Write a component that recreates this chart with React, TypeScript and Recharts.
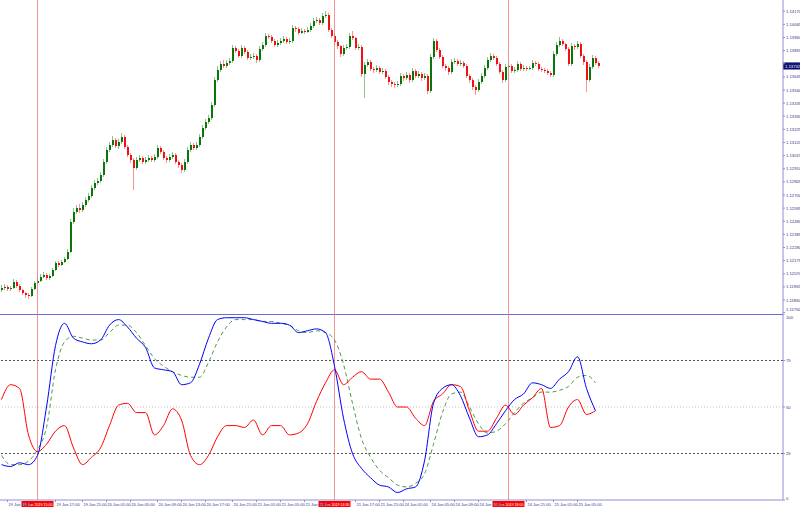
import React from "react";
import { ComposedChart, Bar, XAxis, YAxis, ReferenceLine, LineChart, Line } from "recharts";

// EURUSD-style candles, open = previous close
const FIRST_OPEN = 1.1194;
const CLOSE = [
  1.11956, 1.11964, 1.11948, 1.11956, 1.12004, 1.11972, 1.1194, 1.11916, 1.119, 1.11892,
  1.11948, 1.11996, 1.12012, 1.12044, 1.1206, 1.12036, 1.12052, 1.121, 1.12156, 1.1214,
  1.12164, 1.12188, 1.12244, 1.12484, 1.12564, 1.12596, 1.1258, 1.1262, 1.1266, 1.12692,
  1.12756, 1.12796, 1.12812, 1.1286, 1.12964, 1.1306, 1.131, 1.1314, 1.13092, 1.13124,
  1.13164, 1.13084, 1.1302, 1.1298, 1.12916, 1.1298, 1.12996, 1.12964, 1.1298, 1.12996,
  1.1298, 1.13004, 1.13076, 1.13044, 1.12996, 1.1298, 1.13004, 1.1302, 1.12964, 1.1294,
  1.129, 1.12964, 1.1306, 1.131, 1.13076, 1.131, 1.13164, 1.13236, 1.13284, 1.13316,
  1.1342, 1.1362, 1.137, 1.13748, 1.13732, 1.13756, 1.13772, 1.13876, 1.13852, 1.13812,
  1.13876, 1.13844, 1.13796, 1.13804, 1.13812, 1.1378, 1.13868, 1.139, 1.13972, 1.13964,
  1.13932, 1.139, 1.13916, 1.13932, 1.13948, 1.13924, 1.13932, 1.14036, 1.14028, 1.13996,
  1.14012, 1.14004, 1.1402, 1.14052, 1.14092, 1.141, 1.14076, 1.14132, 1.1414, 1.1402,
  1.13972, 1.13924, 1.13892, 1.13828, 1.13876, 1.13884, 1.13972, 1.13956, 1.13876, 1.13884,
  1.13668, 1.1374, 1.13764, 1.13708, 1.137, 1.13716, 1.13684, 1.13692, 1.13644, 1.13604,
  1.13588, 1.1358, 1.13588, 1.13652, 1.13636, 1.1366, 1.1362, 1.13692, 1.13652, 1.13668,
  1.13636, 1.13652, 1.13532, 1.13804, 1.13932, 1.1386, 1.13804, 1.13732, 1.13716, 1.13684,
  1.13764, 1.13772, 1.13748, 1.13756, 1.13732, 1.13652, 1.1362, 1.13564, 1.1354, 1.13604,
  1.13652, 1.13716, 1.1378, 1.13812, 1.13796, 1.13748, 1.13684, 1.1362, 1.13724, 1.13732,
  1.13692, 1.137, 1.13748, 1.13708, 1.13716, 1.13708, 1.13716, 1.13756, 1.13748, 1.13708,
  1.137, 1.13692, 1.13676, 1.1366, 1.13828, 1.139, 1.13932, 1.13908, 1.13868, 1.13748,
  1.13892, 1.13884, 1.13908, 1.13812, 1.13764, 1.1362, 1.13724, 1.13796, 1.13756, 1.13732,
];
const HIGH = [
  1.1198, 1.11988, 1.1198, 1.11972, 1.12028, 1.1202, 1.11988, 1.11948, 1.11924, 1.11916,
  1.11964, 1.12012, 1.12036, 1.12068, 1.12084, 1.12076, 1.12068, 1.12116, 1.12172, 1.12172,
  1.1218, 1.12204, 1.12268, 1.12508, 1.12596, 1.1262, 1.12628, 1.12644, 1.12684, 1.12716,
  1.1278, 1.1282, 1.12836, 1.12884, 1.12988, 1.13084, 1.13124, 1.13172, 1.13156, 1.13148,
  1.13196, 1.1318, 1.131, 1.13036, 1.12996, 1.13004, 1.1302, 1.13012, 1.13004, 1.1302,
  1.13012, 1.13028, 1.131, 1.13092, 1.1306, 1.13012, 1.13028, 1.13044, 1.13036, 1.1298,
  1.12956, 1.12988, 1.13084, 1.13124, 1.13116, 1.13124, 1.13188, 1.1326, 1.13308, 1.1334,
  1.13444, 1.13644, 1.13732, 1.13772, 1.1378, 1.1378, 1.13796, 1.139, 1.13892, 1.13868,
  1.139, 1.13892, 1.1386, 1.13828, 1.13836, 1.13828, 1.13892, 1.13924, 1.13996, 1.13988,
  1.1398, 1.13948, 1.1394, 1.13956, 1.13972, 1.13964, 1.13956, 1.1406, 1.14052, 1.14044,
  1.14036, 1.14028, 1.14044, 1.14076, 1.14116, 1.14124, 1.14116, 1.14156, 1.14172, 1.14156,
  1.14036, 1.13988, 1.1394, 1.139, 1.139, 1.13908, 1.13996, 1.14012, 1.13964, 1.13908,
  1.139, 1.13764, 1.13788, 1.1378, 1.13724, 1.1374, 1.13732, 1.13716, 1.13708, 1.1366,
  1.1362, 1.13604, 1.13612, 1.13676, 1.13668, 1.13684, 1.13676, 1.13716, 1.13708, 1.13692,
  1.13684, 1.13676, 1.13668, 1.13828, 1.13956, 1.13948, 1.13876, 1.1382, 1.13748, 1.13732,
  1.13788, 1.13796, 1.13788, 1.1378, 1.13772, 1.13748, 1.13668, 1.13636, 1.1358, 1.13628,
  1.13676, 1.1374, 1.13804, 1.13836, 1.13828, 1.13812, 1.13764, 1.137, 1.13748, 1.13756,
  1.13748, 1.13724, 1.13772, 1.13764, 1.1374, 1.13732, 1.13732, 1.1378, 1.13772, 1.13764,
  1.13724, 1.13716, 1.13708, 1.13692, 1.13852, 1.13924, 1.13964, 1.13948, 1.13916, 1.13884,
  1.13916, 1.13908, 1.13932, 1.13924, 1.13828, 1.1378, 1.13748, 1.1382, 1.13812, 1.13772,
];
const LOW = [
  1.11924, 1.1194, 1.11932, 1.11932, 1.11948, 1.11956, 1.11924, 1.119, 1.11876, 1.11868,
  1.11884, 1.1194, 1.11988, 1.12004, 1.12036, 1.1202, 1.1202, 1.12044, 1.12092, 1.12124,
  1.12132, 1.12156, 1.1218, 1.12236, 1.12468, 1.12548, 1.12556, 1.12564, 1.12604, 1.12644,
  1.12676, 1.1274, 1.1278, 1.12796, 1.12844, 1.12948, 1.13044, 1.13084, 1.13076, 1.13068,
  1.13108, 1.13068, 1.13004, 1.12956, 1.1274, 1.129, 1.12964, 1.12948, 1.12948, 1.12964,
  1.12964, 1.12964, 1.12988, 1.13028, 1.1298, 1.12956, 1.12964, 1.12988, 1.12948, 1.12916,
  1.12876, 1.12884, 1.12948, 1.13044, 1.1306, 1.1306, 1.13084, 1.13148, 1.1322, 1.13268,
  1.133, 1.13404, 1.13604, 1.13684, 1.13716, 1.13716, 1.1374, 1.13756, 1.13836, 1.13796,
  1.13796, 1.13828, 1.1378, 1.1378, 1.13788, 1.13756, 1.13764, 1.13852, 1.13884, 1.13948,
  1.13916, 1.13884, 1.13884, 1.139, 1.13916, 1.13908, 1.13908, 1.13916, 1.14004, 1.1398,
  1.13988, 1.13988, 1.13996, 1.14004, 1.14036, 1.14076, 1.1406, 1.1406, 1.14116, 1.14004,
  1.13956, 1.139, 1.13868, 1.13804, 1.13812, 1.1386, 1.13868, 1.1394, 1.1386, 1.1386,
  1.13644, 1.13476, 1.13724, 1.13692, 1.13676, 1.13684, 1.13668, 1.13668, 1.13628, 1.1358,
  1.13564, 1.13556, 1.13564, 1.13572, 1.13612, 1.1362, 1.13596, 1.13604, 1.13636, 1.13636,
  1.13612, 1.1362, 1.13508, 1.13516, 1.13788, 1.13844, 1.13788, 1.13716, 1.13692, 1.1366,
  1.13668, 1.13748, 1.13732, 1.13732, 1.13716, 1.13636, 1.13596, 1.1354, 1.135, 1.13524,
  1.13588, 1.13636, 1.137, 1.13764, 1.1378, 1.13732, 1.13668, 1.13596, 1.13604, 1.13708,
  1.13676, 1.13676, 1.13684, 1.13692, 1.13692, 1.13692, 1.137, 1.137, 1.13732, 1.13692,
  1.13684, 1.13676, 1.1366, 1.13644, 1.13644, 1.13812, 1.13884, 1.13892, 1.13852, 1.13732,
  1.13732, 1.1386, 1.13868, 1.13796, 1.1374, 1.13524, 1.13604, 1.13708, 1.1374, 1.13716,
];

const PRICE_TICKS = [
  1.1176, 1.1186, 1.11965, 1.1207, 1.12175, 1.1228, 1.12385, 1.1249, 1.12595, 1.127, 1.12805, 1.1291,
  1.13015, 1.1312, 1.13225, 1.1333, 1.13435, 1.1354, 1.13645, 1.1375, 1.13855, 1.1396, 1.14065, 1.1417,
];
const OSC_TICKS = [0, 25, 50, 75, 100];

// oscillators, read every 3rd bar
const STOCH_MAIN = [
  19, 18, 20, 19, 24, 50, 83, 95, 87, 85, 84, 86, 94, 97, 93, 87, 82, 71, 70, 69, 62, 63, 73, 87, 97, 98, 98, 98,
  97, 96, 95, 95, 94, 90, 91, 92, 90, 72, 44, 25, 17, 12, 8, 7, 4, 6, 7, 21, 52, 60, 62, 56, 44, 34, 35, 41, 48,
  54, 57, 63, 62, 60, 65, 69, 77, 60, 48,
];
const STOCH_SIGNAL = [
  24, 19, 19, 21, 27, 39, 70, 85, 88, 87, 86, 86, 90, 94, 94, 90, 83, 76, 72, 69, 67, 66, 66, 74, 85, 93, 97, 97,
  97, 96, 96, 95, 94, 91, 90, 91, 90, 86, 73, 52, 33, 23, 16, 12, 8, 7, 9, 14, 30, 47, 57, 58, 50, 41, 36, 37, 41,
  47, 52, 55, 58, 58, 59, 61, 66, 67, 63,
];
const RSI = [
  54, 62, 60, 35, 26, 30, 37, 40, 28, 19, 23, 28, 40, 51, 52, 47, 47, 35, 40, 49, 43, 24, 19, 24, 34, 40, 40, 39,
  43, 35, 40, 40, 35, 36, 41, 53, 63, 70, 62, 66, 69, 65, 65, 58, 50, 50, 44, 40, 53, 57, 62, 61, 48, 37, 37, 44,
  51, 46, 51, 55, 60, 39, 40, 50, 54, 46, 48,
];

const TIME_BARS = [2, 18, 27, 35, 43, 52, 60, 68, 77, 85, 93, 101, 118, 126, 134, 143, 151, 159, 175, 184, 192];
const TIME_LABELS = [
  "19 Jun 2019", "19 Jun 17:00", "19 Jun 21:00", "20 Jun 01:00", "20 Jun 05:00",
  "20 Jun 09:00", "20 Jun 13:00", "20 Jun 17:00", "20 Jun 21:00", "21 Jun 01:00", "21 Jun 05:00",
  "21 Jun 09:00", "21 Jun 17:00", "21 Jun 21:00", "24 Jun 01:00", "24 Jun 05:00", "24 Jun 09:00",
  "24 Jun 13:00", "24 Jun 21:00", "25 Jun 01:00", "25 Jun 05:00",
];
const VLINE_BARS = [12, 111, 169];
const VLINE_LABELS = ["19 Jun 2019 15:00", "21 Jun 2019 14:30", "24 Jun 2019 18:00"];

const SLOTS = 261; // bars + empty shift on the right
const GREEN = "#0a760a";
const RED = "#f21010";
const AXIS = "#8e8ed6";
const AXIS_TEXT = "#34348a";
const FONT = "'Liberation Sans', Arial, sans-serif";

const candles = Array.from({ length: SLOTS }, (_, i) => {
  if (i >= CLOSE.length) return { bar: i };
  const open = i === 0 ? FIRST_OPEN : CLOSE[i - 1];
  return { bar: i, open, close: CLOSE[i], high: HIGH[i], low: LOW[i], range: [LOW[i], HIGH[i]] };
});

const osc = STOCH_MAIN.map((v, k) => ({ bar: k * 3, main: v, signal: STOCH_SIGNAL[k], rsi: RSI[k] }));
const lastClose = CLOSE[CLOSE.length - 1];

function Candle(props: any) {
  const { x, y, width, height, payload } = props;
  if (!payload || payload.high == null) return null;
  const { open, close, high, low } = payload;
  const top = Math.min(y, y + height);
  const h = Math.abs(height);
  const k = h / (high - low);
  const yOf = (p: number) => top + (high - p) * k;
  const cx = x + width / 2;
  const color = close >= open ? GREEN : RED;
  const bTop = yOf(Math.max(open, close));
  const bBot = yOf(Math.min(open, close));
  return (
    <g>
      <line x1={cx} x2={cx} y1={top} y2={top + h} stroke={color} strokeOpacity={0.45} />
      <rect x={Math.round(cx - 1)} y={bTop} width={2} height={Math.max(1, bBot - bTop)} fill={color} />
    </g>
  );
}

function TimeTick(props: any) {
  const { x, y, payload } = props;
  const idx = TIME_BARS.indexOf(payload.value);
  return (
    <text x={x + 1} y={y + 3.5} fontSize={4} fill={AXIS_TEXT} fontFamily={FONT}>
      {TIME_LABELS[idx]}
    </text>
  );
}

// right-hand scale labels; edge labels nudged inside their panel
function PriceTick(props: any) {
  const { x, y, payload } = props;
  const dy = payload.value === PRICE_TICKS[0] ? -1.2 : 1.5;
  return (
    <text x={x} y={y + dy} fontSize={4.2} fill={AXIS_TEXT} fontFamily={FONT}>
      {payload.value.toFixed(5)}
    </text>
  );
}

function OscTick(props: any) {
  const { x, y, payload } = props;
  const dy = payload.value === 100 ? 5 : payload.value === 0 ? -0.5 : 1.5;
  return (
    <text x={x} y={y + dy} fontSize={4.2} fill={AXIS_TEXT} fontFamily={FONT}>
      {payload.value}
    </text>
  );
}

const priceTag = (p: any) => {
  const vb = p.viewBox;
  const x = vb.x + vb.width;
  return (
    <g>
      <rect x={x} y={vb.y - 3.5} width={17} height={7} fill="#0a0a6e" />
      <text x={x + 2} y={vb.y + 1.6} fontSize={4.2} fill="#fff" fontFamily={FONT}>
        {lastClose.toFixed(5)}
      </text>
    </g>
  );
};

const timeTag = (text: string) => (p: any) => {
  const vb = p.viewBox;
  const yb = vb.y + vb.height;
  return (
    <g>
      <rect x={vb.x - 16} y={yb + 1} width={32} height={6} fill="#ff0000" />
      <text x={vb.x - 15} y={yb + 5.5} fontSize={4} fill="#fff" fontFamily={FONT} textLength={30} lengthAdjust="spacingAndGlyphs">
        {text}
      </text>
    </g>
  );
};

export default function App() {
  return (
    <div style={{ position: "absolute", left: 0, top: 0, width: 800, height: 507, background: "#fff", overflow: "hidden", fontFamily: FONT }}>
      <ComposedChart width={800} height={314} data={candles} margin={{ top: 0, right: 0, left: 0, bottom: 0 }} barCategoryGap={0}>
        <XAxis dataKey="bar" type="category" hide />
        <YAxis
          orientation="right"
          width={17}
          domain={[1.11748, 1.1426]}
          allowDataOverflow
          ticks={PRICE_TICKS}
          interval={0}
          tick={<PriceTick />}
          tickSize={2}
          tickMargin={1}
          axisLine={{ stroke: AXIS }}
          tickLine={{ stroke: AXIS }}
        />
        {VLINE_BARS.map((b) => (
          <ReferenceLine key={b} x={b} stroke="#f07070" strokeOpacity={0.75} />
        ))}
        <Bar dataKey="range" shape={(p: any) => <Candle {...p} />} isAnimationActive={false} />
        <ReferenceLine y={lastClose} stroke="none" label={priceTag} />
      </ComposedChart>
      <LineChart width={800} height={193} data={osc} margin={{ top: 0, right: 0, left: 0, bottom: 0 }}>
        <XAxis
          dataKey="bar"
          type="number"
          domain={[-0.5, SLOTS - 0.5]}
          ticks={TIME_BARS}
          interval={0}
          height={7}
          tick={<TimeTick />}
          tickSize={2}
          tickMargin={0}
          axisLine={{ stroke: AXIS }}
          tickLine={{ stroke: AXIS }}
        />
        <YAxis
          orientation="right"
          width={17}
          domain={[0, 100]}
          ticks={OSC_TICKS}
          interval={0}
          tick={<OscTick />}
          tickSize={2}
          tickMargin={1}
          axisLine={{ stroke: AXIS }}
          tickLine={{ stroke: AXIS }}
        />
        <ReferenceLine y={100} stroke="#3b3bc8" strokeWidth={1.5} />
        <ReferenceLine y={75} stroke="#555" strokeDasharray="2 2" />
        <ReferenceLine y={50} stroke="#c4c4c4" strokeDasharray="1 2" />
        <ReferenceLine y={25} stroke="#555" strokeDasharray="2 2" />
        {VLINE_BARS.map((b, i) => (
          <ReferenceLine key={b} x={b} stroke="#f07070" strokeOpacity={0.75} label={timeTag(VLINE_LABELS[i])} />
        ))}
        <Line type="monotone" dataKey="signal" stroke="#4f9a4f" strokeDasharray="4 3" dot={false} isAnimationActive={false} />
        <Line type="monotone" dataKey="rsi" stroke="#ff0000" dot={false} isAnimationActive={false} />
        <Line type="monotone" dataKey="main" stroke="#0000ff" dot={false} isAnimationActive={false} />
      </LineChart>
    </div>
  );
}
